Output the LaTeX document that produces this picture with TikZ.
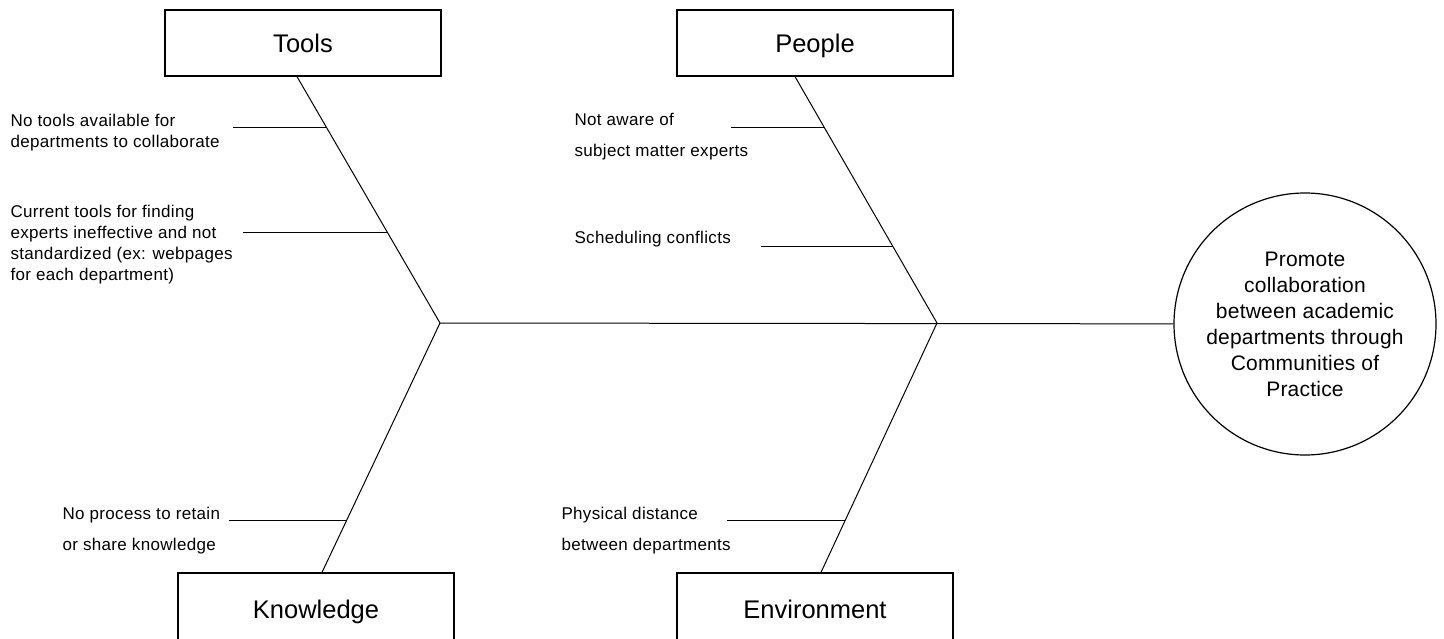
\documentclass[tikz,border=0pt]{standalone}
\usepackage{fontspec}
\setmainfont{Liberation Sans}

\newcommand*{\headX}{440}
\newcommand*{\tailX}{937}
\newcommand*{\spineY}{323}

\tikzset{
    cat/.style={draw, line width=1.2pt, minimum width=276pt, minimum height=66pt, inner sep=0pt,
        text height=18pt, text depth=0pt, font=\fontsize{25.5}{30}\selectfont},
    catlow/.style={cat, minimum height=72pt},
    cause/.style={anchor=base west, align=left, inner sep=0pt,
        font=\fontsize{17}{21}\selectfont\addfontfeatures{LetterSpace=2}},
    causewide/.style={cause, font=\fontsize{17}{31}\selectfont\addfontfeatures{LetterSpace=2}},
    effect/.style={draw, circle, line width=1.2pt, minimum size=262pt, inner sep=0pt, align=center,
        font=\fontsize{21}{26}\selectfont\addfontfeatures{LetterSpace=1}},
}

\begin{document}
\begin{tikzpicture}[x=1pt, y=-1pt, line width=1pt]
\clip (0,0) rectangle (1444,638);

% categories and the effect
\node[cat] (T) at (303,43) {Tools};
\node[cat] (P) at (815,43) {People};
\node[catlow] (K) at (316,609) {Knowledge};
\node[catlow] (E) at (815,609) {Environment};
\node[effect] (G) at (1305,324) {Promote\\collaboration\\between academic\\departments through\\Communities of\\Practice};

% spine
\coordinate (J1) at (\headX,\spineY);
\coordinate (J2) at (\tailX,\spineY);
\draw (J1) -- (G);

% bones
\draw ([xshift=-6pt]T.south) -- (J1) coordinate[pos=0.206] (t1) coordinate[pos=0.632] (t2);
\draw ([xshift=-20pt]P.south) -- (J2) coordinate[pos=0.206] (p1) coordinate[pos=0.688] (p2);
\draw (J1) -- ([xshift=6pt]K.north) coordinate[pos=0.792] (k1);
\draw (J2) -- ([xshift=6pt]E.north) coordinate[pos=0.792] (e1);

% causes
\draw (t1) -- ++(-93,0);
\draw (t2) -- ++(-144,0);
\draw (p1) -- ++(-93,0);
\draw (p2) -- ++(-132,0);
\draw (k1) -- ++(-118,0);
\draw (e1) -- ++(-118,0);

\node[cause] (c1) at (10,147) {No tools available for\\departments to collaborate};
\node[cause] (c2) at (10,280) {Current tools for finding\\experts ineffective and not\\standardized (ex: webpages\\for each department)};
\node[causewide] (c3) at (574,156) {Not aware of\\subject matter experts};
\node[cause] (c4) at (574,243) {Scheduling conflicts};
\node[causewide] (c5) at (62,550) {No process to retain\\or share knowledge};
\node[causewide] (c6) at (561,550) {Physical distance\\between departments};

\end{tikzpicture}
\end{document}
